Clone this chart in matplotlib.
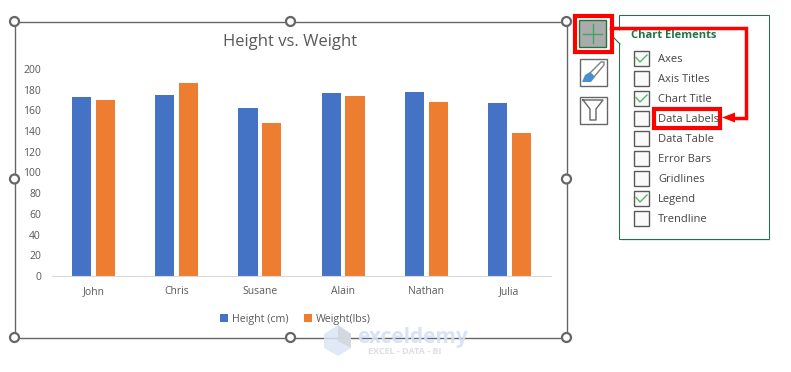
import matplotlib
matplotlib.use("Agg")
import matplotlib.pyplot as plt
from matplotlib.patches import Rectangle, Circle, Polygon
import numpy as np

names = ["John", "Chris", "Susane", "Alain", "Nathan", "Julia"]
height_cm = [173, 175, 162, 177, 178, 167]
weight_lbs = [170, 186, 148, 174, 168, 138]
yticks = [0, 20, 40, 60, 80, 100, 120, 140, 160, 180, 200]
menu_items = ["Axes", "Axis Titles", "Chart Title", "Data Labels", "Data Table",
              "Error Bars", "Gridlines", "Legend", "Trendline"]
menu_checked = [True, False, True, False, False, False, False, True, False]

W, H = 791, 372
plt.rcParams['font.family'] = ['Open Sans', 'DejaVu Sans']
grey = '#595959'
fig = plt.figure(figsize=(W/100, H/100), dpi=100)

# overlay in pixel coords for the Excel interface
ui = fig.add_axes([0, 0, 1, 1], zorder=0)
ui.set_xlim(0, W)
ui.set_ylim(H, 0)
ui.axis('off')

# chart
ax = fig.add_axes([52/W, 1-276/H, 499/W, 207/H], zorder=1)
ax.patch.set_alpha(0)
x = np.arange(len(names))
ax.bar(x-0.143, height_cm, 0.23, color='#4472C4', label='Height (cm)')
ax.bar(x+0.143, weight_lbs, 0.23, color='#ED7D31', label='Weight(lbs)')
ax.set_xlim(-0.5, 5.5)
ax.set_ylim(0, 200)
ax.set_xticks(x, names)
ax.set_yticks(yticks)
ax.tick_params(length=0, labelsize=7.5, labelcolor=grey)
ax.tick_params(axis='x', pad=7)
ax.tick_params(axis='y', pad=8)
for s in ['top', 'right', 'left']:
    ax.spines[s].set_visible(False)
ax.spines['bottom'].set_color('#D9D9D9')
ui.text(290, 42, "Height vs. Weight", fontsize=12, color=grey, ha='center', va='center')
ax.legend(loc='center', bbox_to_anchor=(0.488, -0.21), ncol=2, frameon=False, fontsize=7.7,
          labelcolor=grey, handlelength=0.75, handleheight=0.75, handletextpad=0.35, columnspacing=1.4)

# selection frame
ui.add_patch(Rectangle((14.5, 21.5), 552, 316, fill=False, ec='#666666', lw=1))
for px in [14.5, 290.5, 566.5]:
    for py in [21.5, 179, 337.5]:
        if px == 290.5 and py == 179:
            continue
        ui.add_patch(Circle((px, py), 4.5, fc='white', ec='#666666', lw=1.6, zorder=3))

# watermark
ui.add_patch(Polygon([[324, 334], [338, 325], [351, 334], [351, 348], [338, 356], [324, 348]],
                     fc='#DCE4F5', ec='none', alpha=0.85, zorder=4))
ui.add_patch(Polygon([[338, 325], [351, 334], [351, 348], [338, 341]], fc='#D2D6DE', ec='none', alpha=0.85, zorder=4))
ui.text(357, 337, "exceldemy", fontsize=15, color='#D5DFF7', fontweight='bold', va='center', alpha=0.9, zorder=5)
ui.text(368, 351, "EXCEL - DATA - BI", fontsize=6.5, color='#DDDFE4', fontweight='bold', va='center', zorder=5)

# side buttons
ui.add_patch(Rectangle((579, 20), 27, 27, fc='#ABABAB', ec='#217346', lw=1))
ui.plot([592.5, 592.5], [24, 43], color='#3FA564', lw=1)
ui.plot([583, 602], [33.5, 33.5], color='#3FA564', lw=1)
ui.add_patch(Rectangle((574.5, 15.5), 37, 36, fill=False, ec='#FF0000', lw=3, zorder=6))
ui.add_patch(Rectangle((579.5, 58.5), 27, 27, fc='white', ec='#666666', lw=1))
ui.add_patch(Polygon([[590, 73], [601, 62], [604, 62], [604, 65], [594, 77]], fc='white', ec='#808080', lw=1))
ui.add_patch(Polygon([[582, 82], [585, 75], [590, 72], [595, 77], [591, 82]], fc='#4A8FD0', ec='none'))
ui.add_patch(Rectangle((579.5, 96.5), 27, 27, fc='white', ec='#666666', lw=1))
ui.plot([583, 603, 596, 596, 590, 590, 583], [100, 100, 109, 120, 120, 109, 100], color='#666666', lw=1)

# chart elements panel
ui.add_patch(Rectangle((620.5, 17), 149, 224, fc='#EDEDED', ec='none'))
ui.add_patch(Rectangle((619, 15), 149.5, 224, fc='white', ec='#217346', lw=0.75))
ui.add_patch(Polygon([[620, 30], [613, 37], [620, 44]], fc='white', ec='none', zorder=3))
ui.plot([613, 620], [37, 44], color='#217346', lw=0.8, zorder=3)
ui.text(631, 35.5, "Chart Elements", fontsize=8, color='#217346', fontweight='bold', va='center')
for i, (item, checked) in enumerate(zip(menu_items, menu_checked)):
    yc = 58.5 + i*20
    ui.add_patch(Rectangle((633.5, yc-7.5), 15, 15, fc='#FAFAFA', ec='#595959', lw=1))
    if checked:
        ui.plot([636, 640, 647], [yc-1, yc+3.5, yc-3.5], color='#5DB075', lw=1)
    ui.text(658, yc+1, item, fontsize=8, color='#444444', va='center', zorder=7)

# red annotation
ui.add_patch(Rectangle((653.5, 109), 66, 19, fill=False, ec='#FF0000', lw=3, zorder=6))
ui.plot([611, 746, 746, 733], [28, 28, 117.5, 117.5], color='#FF0000', lw=2.5, zorder=6, solid_joinstyle='miter')
ui.add_patch(Polygon([[722, 117.5], [735, 112.5], [735, 122.5]], fc='#FF0000', ec='none', zorder=6))

fig.savefig('out.png', dpi=100)
